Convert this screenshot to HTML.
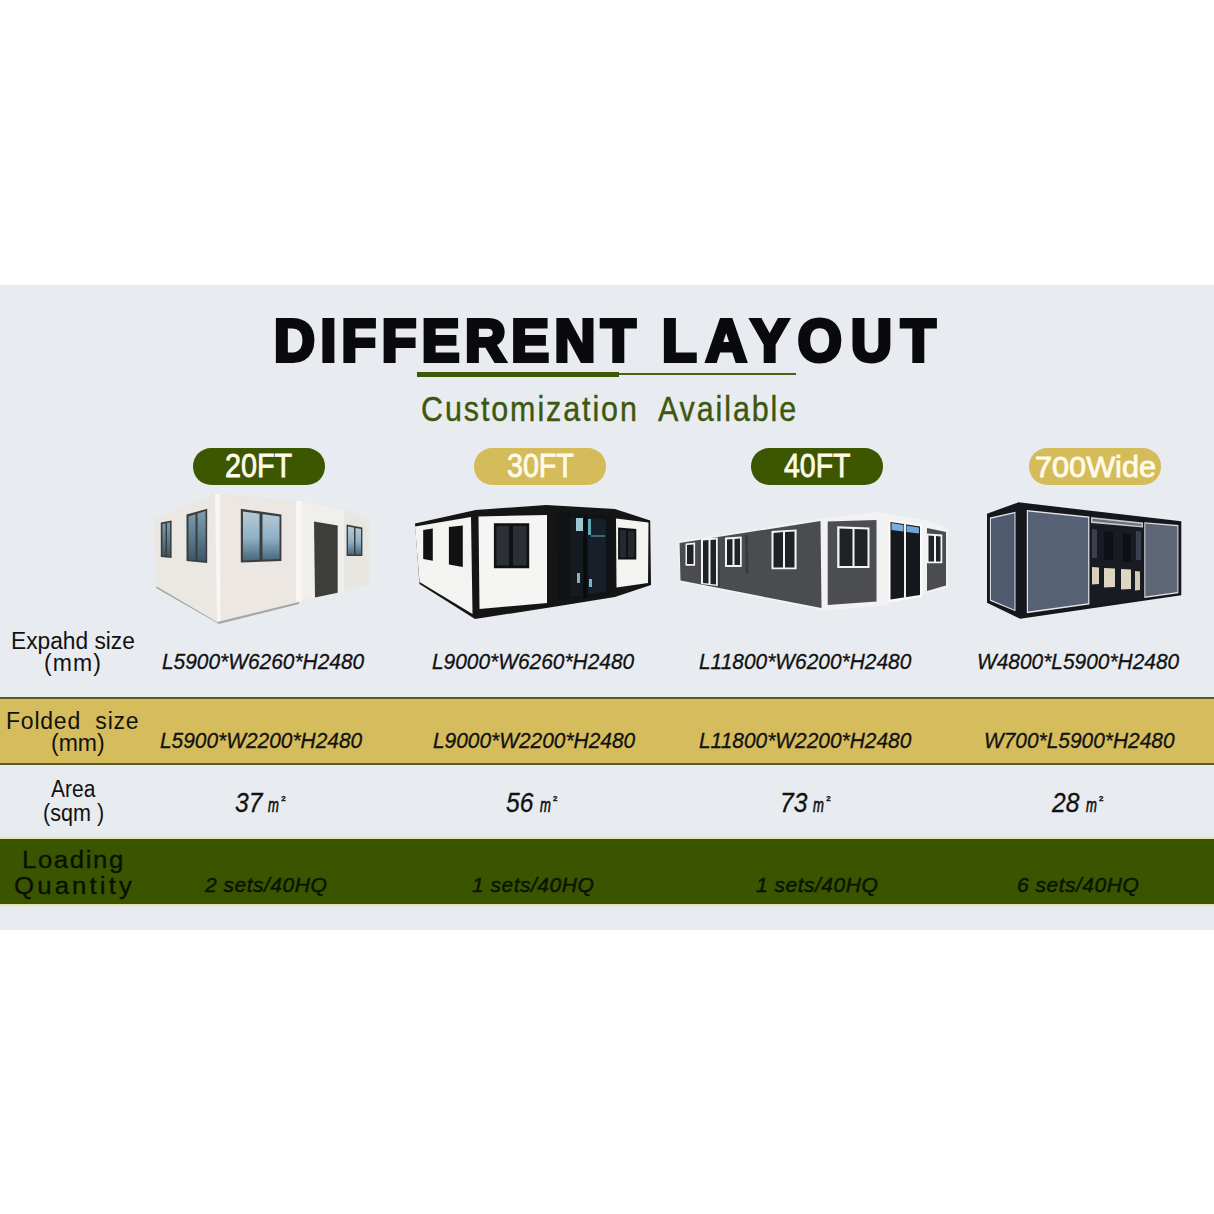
<!DOCTYPE html>
<html><head><meta charset="utf-8">
<style>
html,body{margin:0;padding:0;}
body{width:1214px;height:1214px;background:#fff;position:relative;overflow:hidden;font-family:"Liberation Sans",sans-serif;}
.a{position:absolute;white-space:nowrap;line-height:1;}
#band{position:absolute;left:0;top:285px;width:1214px;height:645px;background:#e8ebf0;}
.title{font-weight:bold;font-size:59px;color:#0a0a0c;-webkit-text-stroke:4px #0a0a0c;transform-origin:0 0;}
.sub{font-size:35px;color:#3d570c;-webkit-text-stroke:0.4px #3d570c;transform-origin:0 0;transform:scaleX(0.87);letter-spacing:2.2px;}
.pill{position:absolute;top:448.2px;height:36.4px;width:132px;border-radius:18.2px;}
.pg{background:#3d5700;}
.py{background:#d5bc5b;}
.ptxt{font-size:33px;color:#fffbe8;-webkit-text-stroke:0.8px #fffbe8;transform-origin:0 0;}
.lbl{font-size:23px;color:#111;transform-origin:0 0;}
.val{font-style:italic;font-size:22px;color:#111;transform-origin:0 0;}
.val{transform:scaleX(0.95);-webkit-text-stroke:0.3px #111;}
.area{font-size:28px;transform:scaleX(0.88);}
.sqm{font-size:21px;transform:scaleX(0.62);-webkit-text-stroke:0.7px #111;}
.sup{font-size:8px;transform:none;font-style:normal;font-weight:bold;}
.load{font-size:21px;transform:none;letter-spacing:0.5px;color:#0c1400;-webkit-text-stroke:0.5px #0c1400;}
</style></head><body>
<div id="band"></div>

<!-- title -->
<div class="a title" id="mt1" style="left:274px;top:312px;letter-spacing:5.7px;transform:scaleX(0.96);">DIFFERENT</div>
<div class="a title" id="mt2" style="left:662.4px;top:312px;letter-spacing:9.6px;transform:scaleX(0.96);">LAYOUT</div>
<div class="a" style="left:416.5px;top:371.5px;width:202.5px;height:5px;background:#3b5806;"></div>
<div class="a" style="left:619px;top:372.5px;width:177px;height:2.2px;background:#476414;"></div>
<div class="a sub" id="msub" style="left:421px;top:391px;">Customization&nbsp; Available</div>

<!-- pills -->
<div class="pill pg" style="left:193px;"></div>
<div class="pill py" style="left:474px;"></div>
<div class="pill pg" style="left:751px;"></div>
<div class="pill py" style="left:1029px;"></div>
<div class="a ptxt" id="mp1" style="left:225px;top:449px;transform:scaleX(0.872);">20FT</div>
<div class="a ptxt" id="mp2" style="left:507px;top:449px;transform:scaleX(0.867);">30FT</div>
<div class="a ptxt" id="mp3" style="left:783.5px;top:449px;transform:scaleX(0.862);">40FT</div>
<div class="a ptxt" id="mp4" style="left:1035px;top:452px;font-size:30px;transform:scaleX(1.022);">700Wide</div>

<!-- houses placeholder -->
<svg id="houses" class="a" style="left:0;top:0;" width="1214" height="1214" viewBox="0 0 1214 1214">
<defs>
<linearGradient id="g1" x1="0" y1="0" x2="0" y2="1"><stop offset="0" stop-color="#7f9cae"/><stop offset="0.5" stop-color="#5d7d90"/><stop offset="1" stop-color="#3c5666"/></linearGradient>
<linearGradient id="g2" x1="0" y1="0" x2="0" y2="1"><stop offset="0" stop-color="#b8cad6"/><stop offset="0.55" stop-color="#8fb0c4"/><stop offset="1" stop-color="#46687c"/></linearGradient>
</defs>
<!-- house 1 -->
<g>
<polygon points="153.5,520 215,493 219,494 298,501 343.6,509 369.5,520.5 369.5,584 343.6,590 299,602.5 219,623 156.5,587" fill="#e9e7e2"/>
<polygon points="153.8,521 215,494.5 217,622 156.8,586.5" fill="#ebe8e3"/>
<polygon points="219,495 298,502 299,602 219.5,621.5" fill="#ece7e3"/>
<polygon points="215,494 220,494 220.5,622 217,622" fill="#f8f7f4"/>
<polygon points="299,501 344,510 344,592 300,601" fill="#f1efeb"/>
<polygon points="296,501 302,501 302,601 296,601.5" fill="#f7f6f3"/>
<polygon points="344,514 369,521 369,583.5 344,589.5" fill="#e8e6e1"/>
<polygon points="156.8,586.5 217,622 219.5,621.5 299,602 299,604 219,624 156,588" fill="#a4a8a2"/>
<polygon points="160.8,522.5 171.6,520.5 171.6,558.1 160.8,557.1" fill="#3b3e40"/>
<polygon points="162.5,524 170,522.5 170,556.5 162.5,555.5" fill="url(#g1)"/><rect x="165.5" y="523" width="1.5" height="34" fill="#3b3e40"/>
<polygon points="186.5,514.6 207.2,508.7 207.2,563 186.5,561.1" fill="#3b3e40"/>
<polygon points="188.5,516.5 205.5,511 205.5,561 188.5,559.5" fill="url(#g1)"/><rect x="195.5" y="513" width="2" height="48" fill="#3b3e40"/>
<polygon points="240.8,508.7 281.4,514.6 281.4,561.1 240.8,562.6" fill="#3b3e40"/>
<polygon points="243,511.5 279.5,516.5 279.5,559 243,560.5" fill="url(#g2)"/>
<rect x="259.5" y="512" width="3" height="48" fill="#3b3e40"/>
<polygon points="314,521.5 337.7,525.5 337.7,592.7 315,597.6" fill="#3d3d3b"/>
<polygon points="346.6,524.5 362.4,527.5 362.4,556.1 346.6,556.1" fill="#3b3e40"/>
<polygon points="348,526.5 361,529 361,554.5 348,554.5" fill="url(#g2)"/><rect x="354" y="527" width="1.5" height="28" fill="#3b3e40"/>
</g>
<!-- house 2 -->
<g>
<polygon points="415,523.5 475.7,510 546.4,505 614.9,509 650.2,520.5 651,585 614.9,597 552.8,607 475,619 419.5,584" fill="#151515"/>
<polygon points="415,526.5 471,517 472.5,614 419.5,582" fill="#f3f3f1"/>
<polygon points="478.5,516.5 547,515 547,603 479.5,609" fill="#f5f5f3"/>
<polygon points="616,518.5 648.5,522.5 648,583 616.5,587.5" fill="#f3f3f1"/>
<polygon points="557,512 611,516 611,594 558,600" fill="#101316"/>
<polygon points="570,517 583,518 583,596 570,597" fill="#141a1f"/>
<polygon points="588,518 606,519 606,592 588,594" fill="#17202a"/>
<rect x="576" y="518" width="7" height="13" fill="#9cc8d4"/>
<rect x="588" y="519" width="3" height="16" fill="#5fa8b8"/>
<rect x="591" y="535" width="14" height="2" fill="#3d6a78"/>
<rect x="577" y="573" width="3" height="10" fill="#8ab0bc"/>
<rect x="589" y="579" width="3" height="8" fill="#7ab4d0"/>
<rect x="583.5" y="516" width="3" height="82" fill="#0a0a0a"/>
<polygon points="423.2,530 432.8,528.5 432.8,560.7 423.2,559" fill="#111"/>
<polygon points="448.9,527 462.8,525.5 462.8,567.1 448.9,564.5" fill="#111"/>
<polygon points="493.9,523.2 529.2,523.2 529.2,568.2 493.9,568.2" fill="#111"/>
<polygon points="496.5,526 509,526 509,565.5 496.5,565.5" fill="#2a3035"/>
<polygon points="513,526 526.5,526 526.5,565.5 513,565.5" fill="#2a3035"/>
<polygon points="618.1,527.5 636.3,529 636.3,559.6 618.1,559.6" fill="#111"/><polygon points="620,530 626,530.5 626,557.5 620,557.5" fill="#23292e"/><polygon points="628,531 634.5,531.5 634.5,557.5 628,557.5" fill="#23292e"/>
</g>
<!-- house 3 -->
<g>
<polygon points="678,541.5 821,518.5 877.8,512 925.6,520 948,528.5 948,588 926.8,593 880,606 823,610.5 680,582" fill="#f2f2f2"/>
<polygon points="679.6,543 820.5,521 821.5,608 680.5,580.5" fill="#4b4c50"/>
<polygon points="827.7,521.5 876.5,520 876.5,601.5 827.7,605" fill="#4d4e52"/>
<polygon points="888.5,519.5 922,524.5 922,597 888.5,602" fill="#fafafa"/>
<polygon points="890.5,522 920,526.5 920,595 890.5,599.5" fill="#15181c"/>
<rect x="904" y="522" width="2" height="76" fill="#f0f0f0"/>
<polygon points="891.5,523 903.5,525 903.5,531.5 891.5,530" fill="#7aaede"/>
<polygon points="906.5,525.5 919,527.5 919,533.5 906.5,532" fill="#6fa4d6"/>
<polygon points="927,528 946,532 946,585.5 927,591" fill="#4b4c50"/>
<polygon points="716,538 719,537.5 720,587 717,586" fill="#3a3b3e"/>
<polygon points="745,535 748,534.5 748.5,574 745.5,573" fill="#3a3b3e"/>
<g fill="#f4f4f4">
<polygon points="685.5,543.5 695.1,542.5 695.1,565.7 685.5,565.7"/>
<polygon points="701,538.5 717.8,537.5 717.8,586 701,584"/>
<polygon points="725,537.5 741.7,536.5 741.7,566.9 725,566.9"/>
<polygon points="771.5,531 796.6,529.5 796.6,569.3 771.5,569.3"/>
<polygon points="837.2,526.3 869.5,527.5 869.5,568.1 837.2,568.1"/>
<polygon points="926.8,533.4 942.3,534.5 942.3,563.3 926.8,563.3"/>
</g>
<g fill="#1f2226">
<polygon points="687,545 693.5,544.5 693.5,564 687,564"/>
<polygon points="703,540.5 708.5,540 708.5,583.5 703,583"/>
<polygon points="710.5,540 716,539.5 716,584.5 710.5,584"/>
<polygon points="727,539.5 732.5,539 732.5,565 727,565"/>
<polygon points="734.5,539 740,538.5 740,565 734.5,565"/>
<polygon points="773.5,533 783,532 783,567.5 773.5,567.5"/>
<polygon points="785,532 794.5,531.5 794.5,567.5 785,567.5"/>
<polygon points="839.5,528.5 852.5,529 852.5,566 839.5,566"/>
<polygon points="854.5,529 867.5,529.5 867.5,566 854.5,566"/>
<polygon points="928.5,535.5 934,536 934,561.5 928.5,561.5"/>
<polygon points="936,536 940.5,536.5 940.5,561.5 936,561.5"/>
</g>
</g>
<!-- house 4 -->
<g>
<polygon points="987,513.7 1018.3,502.3 1181.3,521.3 1181.3,595.2 1020.2,618.8 987,602.7" fill="#15171c"/>
<polygon points="989.9,517.5 1015.5,511.8 1015.5,611.3 989.9,600.8" fill="#e0e2e6"/>
<polygon points="990.9,518.7 1014.5,513.3 1014.5,609.8 990.9,599.8" fill="#4f5a6e"/>
<polygon points="1026.8,509.9 1089.4,516.5 1089.4,604.6 1026.8,613.2" fill="#e4e6ea"/>
<polygon points="1028,511.4 1088.2,517.8 1088.2,603.3 1028,611.6" fill="#566176"/>
<polygon points="1090.3,516.5 1143.4,522.2 1143.4,599 1090.3,605.6" fill="#181b22"/>
<polygon points="1091,517 1143,522.5 1143,527.5 1091,523" fill="#c4c8cc"/>
<polygon points="1092.5,518.8 1141.5,524 1141.5,526 1092.5,521.2" fill="#6a7078"/>
<polygon points="1092,529 1097,529.5 1097,558 1092,558" fill="#3a404c"/>
<polygon points="1136,531 1141,531.5 1141,560 1136,560" fill="#3a404c"/>
<polygon points="1104,531 1113,532 1113,560 1104,560" fill="#0e1016"/>
<polygon points="1123,533 1131,534 1131,562 1123,562" fill="#0e1016"/>
<polygon points="1092,567 1099,567.5 1099,584 1092,584.5" fill="#d8d0bf"/>
<polygon points="1104,568 1115,568.5 1115,587 1104,587.5" fill="#ddd4c2"/>
<polygon points="1121,569 1131,569.5 1131,589 1121,589.5" fill="#ddd4c2"/>
<polygon points="1135,571 1140,571.5 1140,590 1135,590.5" fill="#d2cab8"/>
<polygon points="1144.3,522.2 1178.4,525 1178.4,593.3 1144.3,598" fill="#dfe1e5"/>
<polygon points="1145.3,523.4 1177.4,526.2 1177.4,592.1 1145.3,596.6" fill="#5e6676"/>
</g>
</svg>

<!-- expand row -->
<div id="ml1" class="a lbl" style="left:10.7px;top:629.5px;transform:scaleX(0.988);">Expahd size</div>
<div id="ml2" class="a lbl" style="left:44px;top:652px;letter-spacing:1.1px;">(mm)</div>
<div id="mv3" class="a val" style="left:162px;top:651px;">L5900*W6260*H2480</div>
<div id="mv4" class="a val" style="left:432px;top:651px;">L9000*W6260*H2480</div>
<div id="mv5" class="a val" style="left:698.5px;top:651px;">L11800*W6200*H2480</div>
<div id="mv6" class="a val" style="left:976.8px;top:651px;">W4800*L5900*H2480</div>

<!-- folded row -->
<div class="a" style="left:0;top:697px;width:1214px;height:68px;background:#d5bc5c;border-top:2px solid #5c5a22;border-bottom:2px solid #5c5a22;box-sizing:border-box;"></div>
<div id="ml7" class="a lbl" style="left:6px;top:710.3px;letter-spacing:0.78px;">Folded&nbsp; size</div>
<div id="ml8" class="a lbl" style="left:51px;top:732.3px;">(mm)</div>
<div id="mv9" class="a val" style="left:160px;top:730px;">L5900*W2200*H2480</div>
<div id="mv10" class="a val" style="left:432.7px;top:730px;">L9000*W2200*H2480</div>
<div id="mv11" class="a val" style="left:698.5px;top:730px;">L11800*W2200*H2480</div>
<div id="mv12" class="a val" style="left:983.6px;top:730px;">W700*L5900*H2480</div>

<!-- area row -->
<div id="ml13" class="a lbl" style="left:50.7px;top:778px;transform:scaleX(0.912);">Area</div>
<div id="ml14" class="a lbl" style="left:43.3px;top:802px;transform:scaleX(0.937);">(sqm )</div>
<div id="mv15" class="a val area" style="left:234.5px;top:789px;">37</div>
<div id="mv16" class="a val area" style="left:506.4px;top:789px;">56</div>
<div id="mv17" class="a val area" style="left:779.5px;top:789px;">73</div>
<div id="mv18" class="a val area" style="left:1052.4px;top:789px;">28</div>
<div id="mm15" class="a val sqm" style="left:268.0px;top:794px;">m</div>
<div id="mm16" class="a val sqm" style="left:539.9px;top:794px;">m</div>
<div id="mm17" class="a val sqm" style="left:813.0px;top:794px;">m</div>
<div id="mm18" class="a val sqm" style="left:1085.9px;top:794px;">m</div>
<div id="ms15" class="a val sup" style="left:281.2px;top:795px;">2</div>
<div id="ms16" class="a val sup" style="left:553.1px;top:795px;">2</div>
<div id="ms17" class="a val sup" style="left:826.2px;top:795px;">2</div>
<div id="ms18" class="a val sup" style="left:1099.1000000000001px;top:795px;">2</div>

<!-- loading row -->
<div class="a" style="left:0;top:837px;width:1214px;height:69px;background:#3b5400;border-top:2px solid #e8e4a8;border-bottom:2px solid #e8e4a8;box-sizing:border-box;"></div>
<div id="ml19" class="a lbl" style="left:21.7px;top:849px;letter-spacing:1.43px;color:#0a1000;transform:scaleX(1.12);-webkit-text-stroke:0.3px #0a1000;">Loading</div>
<div id="ml20" class="a lbl" style="left:14px;top:875px;letter-spacing:2.8px;color:#0a1000;transform:scaleX(1.12);-webkit-text-stroke:0.3px #0a1000;">Quantity</div>
<div id="mv21" class="a val load" style="left:205px;top:874px;">2 sets/40HQ</div>
<div id="mv22" class="a val load" style="left:472px;top:874px;">1 sets/40HQ</div>
<div id="mv23" class="a val load" style="left:756px;top:874px;">1 sets/40HQ</div>
<div id="mv24" class="a val load" style="left:1017px;top:874px;">6 sets/40HQ</div>
</body></html>
